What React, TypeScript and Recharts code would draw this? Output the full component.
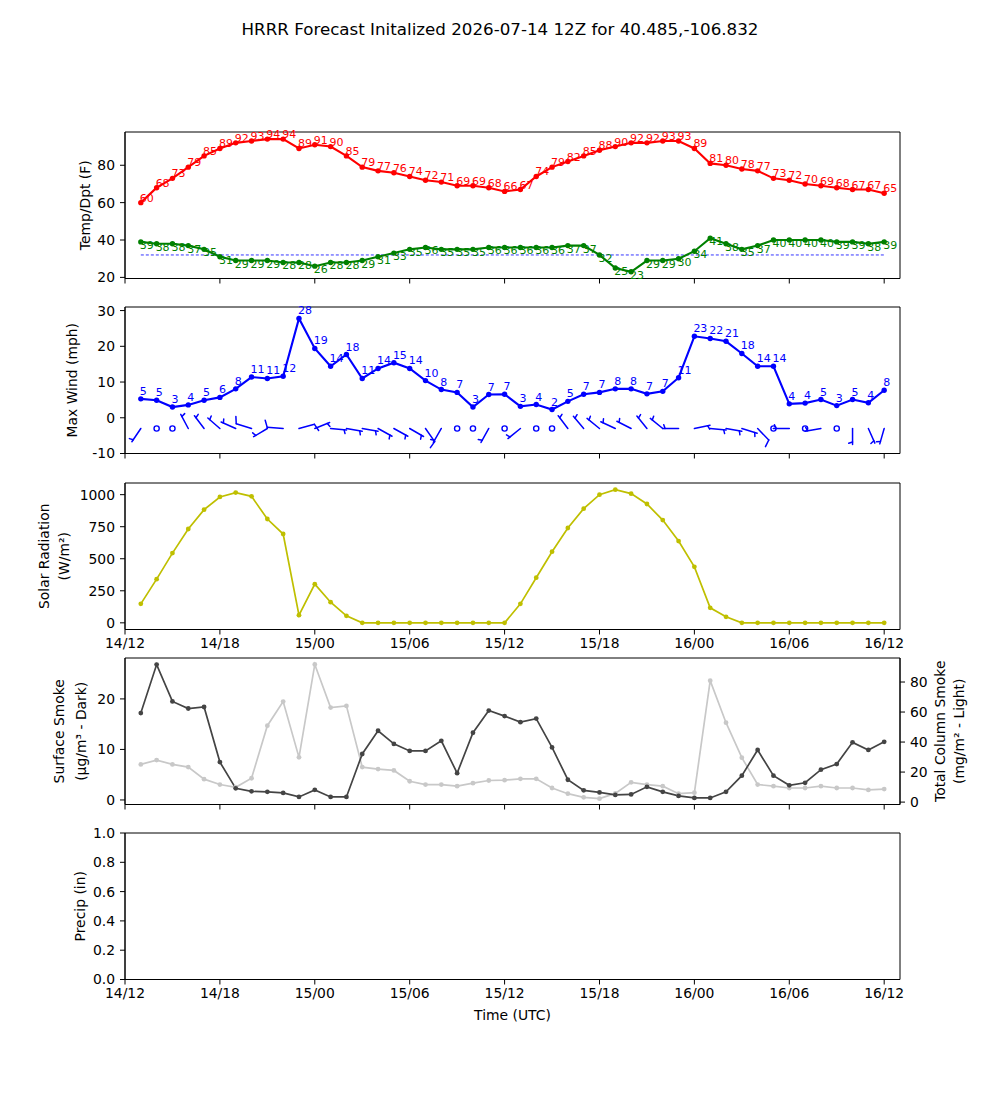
import React from 'react';
import { ComposedChart, Line, Scatter, XAxis, YAxis, ReferenceLine, ReferenceArea, LabelList } from 'recharts';

// forecast hours after 14/12Z
const hours = [1, 2, 3, 4, 5, 6, 7, 8, 9, 10, 11, 12, 13, 14, 15, 16, 17, 18, 19, 20, 21, 22, 23, 24,
  25, 26, 27, 28, 29, 30, 31, 32, 33, 34, 35, 36, 37, 38, 39, 40, 41, 42, 43, 44, 45, 46, 47, 48];

const tickHours = [0, 6, 12, 18, 24, 30, 36, 42, 48];
const tickLabels = ['14/12', '14/18', '15/00', '15/06', '15/12', '15/18', '16/00', '16/06', '16/12'];

const tempF = [60, 68, 73, 79, 85, 89, 92, 93, 94, 94, 89, 91, 90, 85, 79, 77, 76, 74, 72, 71, 69, 69, 68, 66,
  67, 74, 79, 82, 85, 88, 90, 92, 92, 93, 93, 89, 81, 80, 78, 77, 73, 72, 70, 69, 68, 67, 67, 65];
const dewF = [39, 38, 38, 37, 35, 31, 29, 29, 29, 28, 28, 26, 28, 28, 29, 31, 33, 35, 36, 35, 35, 35, 36, 36,
  36, 36, 36, 37, 37, 32, 25, 23, 29, 29, 30, 34, 41, 38, 35, 37, 40, 40, 40, 40, 39, 39, 38, 39];

const maxWind = [5.3, 4.9, 3.0, 3.6, 4.9, 5.7, 8.1, 11.4, 11.0, 11.6, 27.8, 19.4, 14.4, 17.7, 11.0, 13.8, 15.4, 13.8, 10.4, 7.9, 7.1, 3.0, 6.5, 6.6,
  3.2, 3.7, 2.3, 4.6, 6.6, 7.1, 8.1, 8.1, 6.7, 7.4, 11.2, 22.8, 22.2, 21.4, 18.0, 14.4, 14.4, 3.9, 4.1, 5.1, 3.4, 5.1, 4.2, 7.7];
// 10 m wind barbs: direction wind blows from (deg) and speed (kt), 0 kt = calm circle
const barbDir = [214, 0, 0, 332, 323, 311, 294, 287, 239, 274, 75, 68, 95, 100, 100, 119, 119, 120, 145, 210, 0, 0, 209, 0,
  231, 0, 0, 323, 320, 309, 295, 297, 321, 309, 270, 78, 95, 100, 107, 136, 0, 270, 0, 260, 0, 180, 156, 196];
const barbKt = [5, 0, 0, 5, 5, 5, 5, 10, 5, 10, 10, 5, 5, 5, 5, 5, 5, 5, 10, 5, 0, 0, 5, 0,
  5, 0, 0, 5, 5, 5, 5, 5, 5, 5, 5, 5, 5, 5, 5, 10, 0, 5, 0, 5, 0, 5, 5, 5];

const solar = [148, 341, 544, 732, 883, 982, 1016, 987, 810, 693, 60, 302, 161, 55, 0, 0, 0, 0, 0, 0, 0, 0, 0, 0,
  148, 352, 555, 740, 891, 1000, 1039, 1008, 927, 802, 638, 437, 117, 47, 0, 0, 0, 0, 0, 0, 0, 0, 0, 0];

const surfSmoke = [17.2, 26.8, 19.5, 18.1, 18.4, 7.5, 2.3, 1.7, 1.6, 1.4, 0.6, 2.0, 0.6, 0.6, 9.1, 13.7, 11.1, 9.7, 9.7, 11.7, 5.3, 13.3, 17.7, 16.6,
  15.4, 16.1, 10.4, 4.0, 1.9, 1.5, 1.0, 1.1, 2.6, 1.6, 0.8, 0.4, 0.4, 1.6, 4.8, 9.9, 4.8, 2.9, 3.4, 6.0, 7.1, 11.4, 9.9, 11.5];
const colSmoke = [25.1, 28.0, 25.1, 23.3, 15.3, 11.7, 9.9, 15.9, 50.9, 67.0, 29.8, 91.7, 63.0, 64.1, 23.3, 22.0, 21.1, 13.9, 11.7, 11.7, 10.6, 12.6, 14.4, 14.6,
  15.5, 15.5, 9.4, 5.6, 3.2, 2.3, 5.8, 13.2, 11.7, 10.6, 5.6, 6.3, 80.9, 52.9, 29.6, 11.7, 10.6, 9.4, 9.4, 10.6, 9.4, 9.4, 8.1, 8.7];

const rows = hours.map((h, i) => ({
  h,
  temp: tempF[i],
  dew: dewF[i],
  wind: maxWind[i],
  barbY: -3,
  dir: barbDir[i],
  kt: barbKt[i],
  solar: solar[i],
  surf: surfSmoke[i],
  col: colSmoke[i],
}));

const FONT = 'DejaVu Sans, sans-serif';
const PLOT_H = 146.5;
const MT = 20;
const XH = 30;
const CH = 240;
const MB = CH - MT - PLOT_H - XH;
const tops = [131.7, 307.1, 482.5, 657.9, 833.3];

const fmtX = (v: number) => tickLabels[tickHours.indexOf(v)] ?? '';
const noLabel = () => '';
const tickStyle = { fill: '#000', fontSize: 13.9 };
const black = { stroke: '#000' };

const YLabel = ({ lines, xs }: { lines: string[]; xs: number[] }) => {
  const cy = MT + PLOT_H / 2;
  return (
    <g>
      {lines.map((t, i) => (
        <text key={i} x={xs[i]} y={cy} transform={`rotate(-90 ${xs[i]} ${cy})`} textAnchor="middle"
          dominantBaseline="central" fontSize={13.9} fill="#000">{t}</text>
      ))}
    </g>
  );
};

const XLabel = () => (
  <text x={512.5} y={201.7} textAnchor="middle" dominantBaseline="central" fontSize={13.9} fill="#000">Time (UTC)</text>
);

const pointLabel = (color: string, dy: number) => (p: any) => (
  <text x={p.x - 1} y={p.y + dy} fontSize={11} fill={color}>{Math.round(p.value)}</text>
);

const Barb = (props: any) => {
  const { cx, cy, payload } = props;
  if (cx == null || cy == null) return null;
  if (payload.kt === 0) {
    return <circle cx={cx} cy={cy} r={2.6} fill="none" stroke="blue" strokeWidth={1.4} />;
  }
  const d = (payload.dir * Math.PI) / 180;
  const L = 16;
  const ux = Math.sin(d);
  const uy = -Math.cos(d);
  const ex = cx + ux * L;
  const ey = cy + uy * L;
  const nx = -uy;
  const ny = ux;
  let tick;
  if (payload.kt >= 10) {
    tick = <line x1={ex} y1={ey} x2={ex + nx * 7 + ux * 2.5} y2={ey + ny * 7 + uy * 2.5} />;
  } else {
    const sx = ex - ux * 2.5;
    const sy = ey - uy * 2.5;
    tick = <line x1={sx} y1={sy} x2={sx + nx * 3.8 + ux * 1.3} y2={sy + ny * 3.8 + uy * 1.3} />;
  }
  return (
    <g stroke="blue" strokeWidth={1.5} strokeLinecap="round">
      <line x1={cx} y1={cy} x2={ex} y2={ey} />
      {tick}
    </g>
  );
};

const Panel = ({ idx, children }: { idx: number; children: React.ReactNode }) => (
  <div style={{ position: 'absolute', left: 0, top: tops[idx] - MT, width: 1000, height: CH }}>{children}</div>
);

const xAxis = (labels: boolean, extra?: any) => (
  <XAxis dataKey="h" type="number" domain={[0, 49]} ticks={tickHours} allowDataOverflow
    tickFormatter={labels ? fmtX : noLabel} height={XH} tick={tickStyle} tickLine={black} axisLine={black}
    tickSize={5} tickMargin={4} interval={0} {...extra} />
);

export default function App() {
  return (
    <div style={{ position: 'absolute', left: 0, top: 0, width: 1000, height: 1100, background: '#fff', fontFamily: FONT }}>
      <div style={{ position: 'absolute', top: 19, width: 1000, textAlign: 'center', fontSize: 16.7, lineHeight: '20px' }}>
        HRRR Forecast Initalized 2026-07-14 12Z for 40.485,-106.832
      </div>

      <Panel idx={0}>
        <ComposedChart width={1000} height={CH} data={rows} margin={{ top: MT, right: 100, bottom: MB, left: 65 }}>
          {xAxis(false)}
          <YAxis type="number" domain={[19.4, 97.8]} ticks={[20, 40, 60, 80]} allowDataOverflow width={60}
            tick={tickStyle} tickLine={black} axisLine={black} tickSize={5} tickMargin={5}
            label={<YLabel lines={['Temp/Dpt (F)']} xs={[84.5]} />} />
          <ReferenceArea x1={0} x2={49} y1={19.4} y2={97.8} fill="none" stroke="#000" strokeWidth={1} />
          <ReferenceLine segment={[{ x: 1, y: 32 }, { x: 48, y: 32 }]} stroke="blue" strokeWidth={0.8} strokeDasharray="3 2" />
          <Line dataKey="temp" stroke="red" strokeWidth={2.1} dot={{ r: 2.7, fill: 'red', stroke: 'red', strokeWidth: 0 }} isAnimationActive={false}>
            <LabelList dataKey="temp" content={pointLabel('red', -1)} />
          </Line>
          <Line dataKey="dew" stroke="green" strokeWidth={2.1} dot={{ r: 2.7, fill: 'green', stroke: 'green', strokeWidth: 0 }} isAnimationActive={false}>
            <LabelList dataKey="dew" content={pointLabel('green', 7)} />
          </Line>
        </ComposedChart>
      </Panel>

      <Panel idx={1}>
        <ComposedChart width={1000} height={CH} data={rows} margin={{ top: MT, right: 100, bottom: MB, left: 65 }}>
          {xAxis(false)}
          <YAxis type="number" domain={[-10, 31]} ticks={[-10, 0, 10, 20, 30]} allowDataOverflow width={60}
            tick={tickStyle} tickLine={black} axisLine={black} tickSize={5} tickMargin={5}
            label={<YLabel lines={['Max Wind (mph)']} xs={[72]} />} />
          <ReferenceArea x1={0} x2={49} y1={-10} y2={31} fill="none" stroke="#000" strokeWidth={1} />
          <Line dataKey="wind" stroke="blue" strokeWidth={2.1} dot={{ r: 2.7, fill: 'blue', stroke: 'blue', strokeWidth: 0 }} isAnimationActive={false}>
            <LabelList dataKey="wind" content={pointLabel('blue', -4)} />
          </Line>
          <Scatter dataKey="barbY" shape={Barb} isAnimationActive={false} />
        </ComposedChart>
      </Panel>

      <Panel idx={2}>
        <ComposedChart width={1000} height={CH} data={rows} margin={{ top: MT, right: 100, bottom: MB, left: 65 }}>
          {xAxis(true)}
          <YAxis type="number" domain={[-52, 1091]} ticks={[0, 250, 500, 750, 1000]} allowDataOverflow width={60}
            tick={tickStyle} tickLine={black} axisLine={black} tickSize={5} tickMargin={5}
            label={<YLabel lines={['Solar Radiation', '(W/m²)']} xs={[43.5, 64]} />} />
          <ReferenceArea x1={0} x2={49} y1={-52} y2={1091} fill="none" stroke="#000" strokeWidth={1} />
          <Line dataKey="solar" stroke="#bfbf00" strokeWidth={1.7} dot={{ r: 2.4, fill: '#bfbf00', stroke: '#bfbf00', strokeWidth: 0 }} isAnimationActive={false} />
        </ComposedChart>
      </Panel>

      <Panel idx={3}>
        <ComposedChart width={1000} height={CH} data={rows} margin={{ top: MT, right: 40, bottom: MB, left: 65 }}>
          {xAxis(false)}
          <YAxis yAxisId="left" type="number" domain={[-0.9, 28.1]} ticks={[0, 10, 20]} allowDataOverflow width={60}
            tick={tickStyle} tickLine={black} axisLine={black} tickSize={5} tickMargin={5}
            label={<YLabel lines={['Surface Smoke', '(μg/m³ - Dark)']} xs={[58.5, 81]} />} />
          <YAxis yAxisId="right" orientation="right" type="number" domain={[-1.6, 96]} ticks={[0, 20, 40, 60, 80]} allowDataOverflow width={60}
            tick={tickStyle} tickLine={black} axisLine={black} tickSize={5} tickMargin={5}
            label={<YLabel lines={['Total Column Smoke', '(mg/m² - Light)']} xs={[939.5, 958.5]} />} />
          <ReferenceArea yAxisId="left" x1={0} x2={49} y1={-0.9} y2={28.1} fill="none" stroke="#000" strokeWidth={1} />
          <Line yAxisId="right" dataKey="col" stroke="#c8c8c8" strokeWidth={1.7} dot={{ r: 2.4, fill: '#c8c8c8', stroke: '#c8c8c8', strokeWidth: 0 }} isAnimationActive={false} />
          <Line yAxisId="left" dataKey="surf" stroke="#444444" strokeWidth={1.7} dot={{ r: 2.4, fill: '#444444', stroke: '#444444', strokeWidth: 0 }} isAnimationActive={false} />
        </ComposedChart>
      </Panel>

      <Panel idx={4}>
        <ComposedChart width={1000} height={CH} data={rows} margin={{ top: MT, right: 100, bottom: MB, left: 65 }}>
          {xAxis(true, { label: <XLabel /> })}
          <YAxis type="number" domain={[0, 1]} ticks={[0, 0.2, 0.4, 0.6, 0.8, 1]} allowDataOverflow width={60}
            tickFormatter={(v: number) => v.toFixed(1)}
            tick={tickStyle} tickLine={black} axisLine={black} tickSize={5} tickMargin={5}
            label={<YLabel lines={['Precip (in)']} xs={[80]} />} />
          <ReferenceArea x1={0} x2={49} y1={0} y2={1} fill="none" stroke="#000" strokeWidth={1} />
        </ComposedChart>
      </Panel>
    </div>
  );
}
